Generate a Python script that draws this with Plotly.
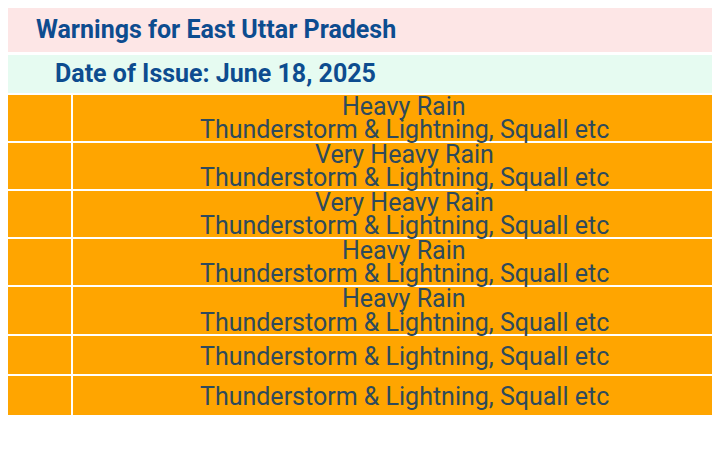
import plotly.graph_objects as go

title = "Warnings for East Uttar Pradesh"
issue = "Date of Issue: June 18, 2025"
rain = ["Heavy Rain", "Very Heavy Rain", "Very Heavy Rain", "Heavy Rain", "Heavy Rain", "", ""]
storm = ["Thunderstorm & Lightning, Squall etc"] * 7
row_top = [95, 143, 191, 239, 287, 336, 376]
row_bot = [141, 189, 237, 285, 334, 374, 415]

fig = go.Figure()
shapes = [
    dict(type="rect", x0=-10, x1=740, y0=8, y1=52, fillcolor="#fde6e6", line_width=0, layer="below"),
    dict(type="rect", x0=-10, x1=740, y0=55, y1=93, fillcolor="#e6fbf1", line_width=0, layer="below"),
]
tfont = dict(family="Roboto", size=25, color="#0d4c8f")
ann = [
    dict(x=34, y=29, text=f"<b>{title}</b>", xanchor="left", showarrow=False, font=tfont),
    dict(x=53, y=73, text=f"<b>{issue}</b>", xanchor="left", showarrow=False, font=tfont),
]
cfont = dict(family="Roboto", size=25, color="#2e4a5c")
for r, s, t, b in zip(rain, storm, row_top, row_bot):
    shapes.append(dict(type="rect", x0=-10, x1=71, y0=t, y1=b, fillcolor="#ffa500", line_width=0, layer="below"))
    shapes.append(dict(type="rect", x0=73, x1=740, y0=t, y1=b, fillcolor="#ffa500", line_width=0, layer="below"))
    if r:
        ann.append(dict(x=404, y=t + 11, text=r, showarrow=False, font=cfont))
        ann.append(dict(x=404, y=b - 12, text=s, showarrow=False, font=cfont))
    else:
        ann.append(dict(x=404, y=(t + b) / 2 + 1, text=s, showarrow=False, font=cfont))

fig.add_trace(go.Scatter(x=[8, 728], y=[8, 470], mode="markers", marker_opacity=0, hoverinfo="skip"))
fig.update_layout(width=720, height=462, margin=dict(l=0, r=0, t=0, b=0),
                  plot_bgcolor="white", paper_bgcolor="white", showlegend=False,
                  shapes=shapes, annotations=ann,
                  xaxis=dict(range=[8, 728], visible=False),
                  yaxis=dict(range=[470, 8], visible=False))
fig.write_html("out.html")
